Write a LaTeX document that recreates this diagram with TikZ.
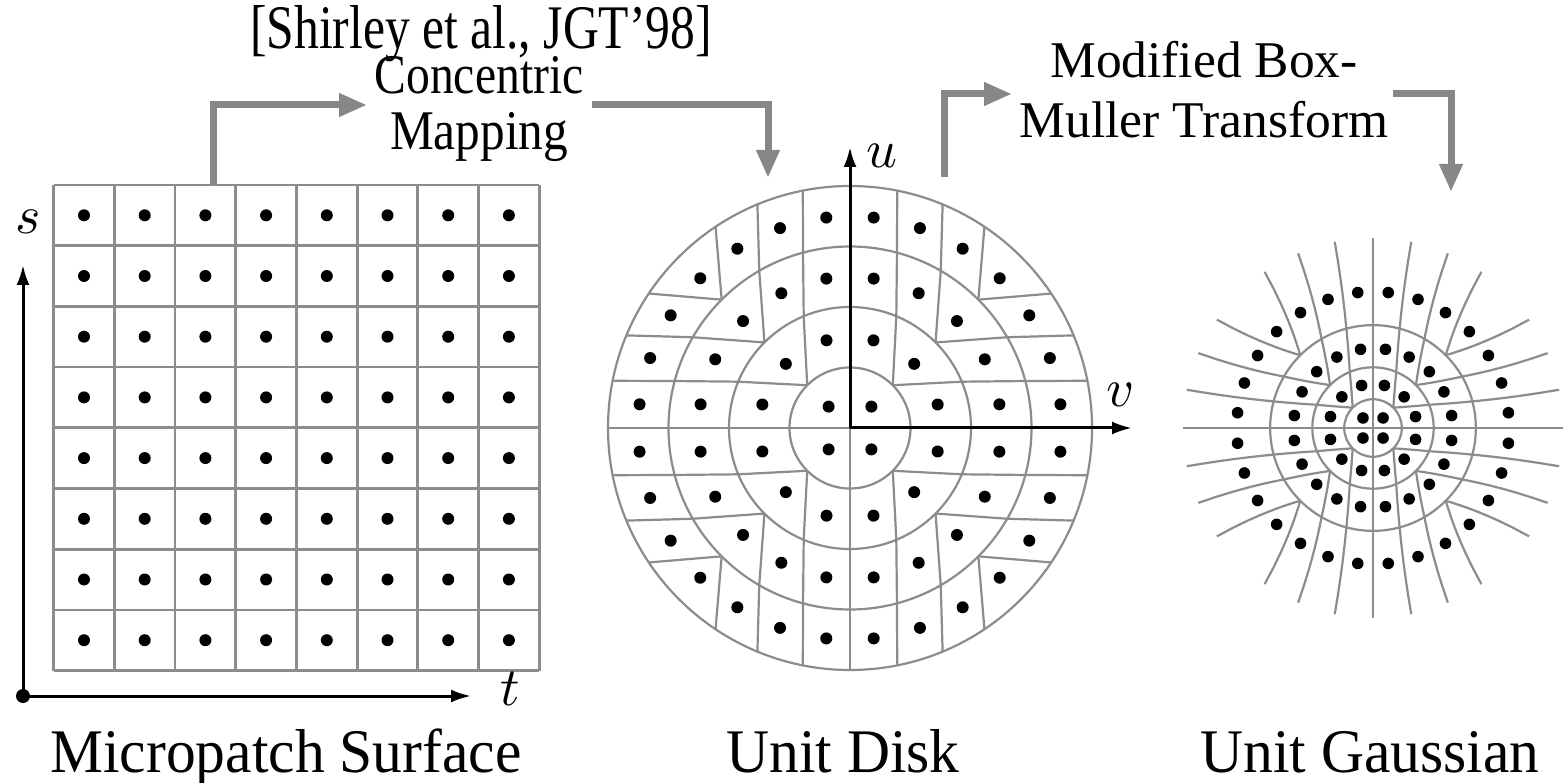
\documentclass[tikz,border=0pt]{standalone}
\usepackage{fontspec}
\usepackage{graphicx}
\setmainfont{Liberation Serif}
\usetikzlibrary{arrows.meta}
\definecolor{lgray}{HTML}{8C8C8C}
\definecolor{agray}{HTML}{878787}
% concentric mapping of square point (a,b) -> disk point \CMx,\CMy
\newcommand\CMap[2]{%
  \edef\CMa{\fpeval{round(#1,6)}}\edef\CMb{\fpeval{round(#2,6)}}%
  \ifdim\fpeval{abs(\CMa)}pt>\fpeval{abs(\CMb)}pt\relax
    \edef\CMr{\CMa}\edef\CMp{\fpeval{45*(\CMb)/(\CMa)}}%
  \else
    \ifdim\fpeval{abs(\CMb)}pt=0pt\relax
      \def\CMr{0}\def\CMp{0}%
    \else
      \edef\CMr{\CMb}\edef\CMp{\fpeval{90-45*(\CMa)/(\CMb)}}%
    \fi
  \fi
  \edef\CMx{\fpeval{round((\CMr)*cosd(\CMp),6)}}%
  \edef\CMy{\fpeval{round((\CMr)*sind(\CMp),6)}}%
}
% modified Box-Muller: disk point -> gaussian point \GMx,\GMy
\newcommand\GMap[2]{%
  \edef\GMq{\fpeval{min(max((#1)^2+(#2)^2,0.000000001),0.995)}}%
  \edef\GMg{\fpeval{sqrt(-2*ln(1-\GMq)/\GMq)}}%
  \edef\GMx{\fpeval{round((#1)*\GMg,6)}}%
  \edef\GMy{\fpeval{round((#2)*\GMg,6)}}%
}
\newcommand\DrawSeg[4]{%
  \CMap{#1}{#2}\edef\SPx{\CMx}\edef\SPy{\CMy}%
  \CMap{#3}{#4}\edef\SQx{\CMx}\edef\SQy{\CMy}%
  \draw[diskline] ({850+242*\SPx},{428-242*\SPy}) -- ({850+242*\SQx},{428-242*\SQy});
  \GMap{\SPx}{\SPy}%
  \xdef\GPath{({1373+80*\GMx},{428-80*\GMy})}%
  \foreach \t in {1,...,10}{%
    \edef\STx{\fpeval{(\SPx)+((\SQx)-(\SPx))*\t/10}}%
    \edef\STy{\fpeval{(\SPy)+((\SQy)-(\SPy))*\t/10}}%
    \GMap{\STx}{\STy}%
    \xdef\GPath{\GPath -- ({1373+80*\GMx},{428-80*\GMy})}%
  }%
  \begin{scope}
    \clip (1373,428) circle[radius=190];
    \edef\GCmd{\noexpand\draw[gline] \GPath;}\GCmd
  \end{scope}
}
\newcommand\Cond[2]{\scalebox{#1}[1]{#2}}
\newcommand\BigMath[1]{\scalebox{5.4}{$#1$}}
\begin{document}
\begin{tikzpicture}[x=1pt,y=-1pt,
  gridline/.style={draw=lgray,line width=2.8pt},
  diskline/.style={draw=lgray,line width=2.2pt},
  gline/.style={draw=lgray,line width=2.2pt},
  flow/.style={draw=agray,line width=7pt,-{Triangle[length=28pt,width=22pt]}},
  axisarrow/.style={draw=black,line width=3pt,-{Latex[length=20pt,width=13pt]}},
  lbl/.style={inner sep=0pt,anchor=base},
  mathlbl/.style={inner sep=0pt}]
\fill[white] (0,0) rectangle (1564,783);
\useasboundingbox (0,0) rectangle (1564,783);

% ---------- micropatch grid ----------
\foreach \k in {0,...,8}{
  \draw[gridline] ({53.6+60.7*\k},185) -- ({53.6+60.7*\k},670.6);
  \draw[gridline] (53.6,{185+60.7*\k}) -- (539.2,{185+60.7*\k});
}
\coordinate (O) at (23,696);
\coordinate (sT) at (23,265);
\coordinate (tT) at (471,696);
\draw[axisarrow] (O) -- (sT);
\draw[axisarrow] (O) -- (tT);
\fill (O) circle[radius=7];
\node[mathlbl] (slab) at (28,222) {\BigMath{s}};
\node[mathlbl] (tlab) at (510,689) {\BigMath{t}};

% ---------- unit disk ----------
\foreach \rr in {0.25,0.5,0.75,1}{
  \draw[diskline] (850,428) circle[radius={242*\rr}];
}
% ---------- gaussian rings ----------
\foreach \rr in {0.25,0.5,0.75}{
  \draw[gline] (1373,428) circle[radius={80*sqrt(-2*ln(1-\rr*\rr))}];
}
% mapped grid lines
\foreach \i in {0,...,8}{
  \foreach \j in {0,...,7}{
    \edef\Aa{\fpeval{-1+0.25*\i}}%
    \edef\Bb{\fpeval{-1+0.25*\j}}%
    \edef\Bc{\fpeval{-0.75+0.25*\j}}%
    \edef\CMskp{\fpeval{((abs(\Bb)<=abs(\Aa)+0.001)&&(abs(\Bc)<=abs(\Aa)+0.001))?1:0}}%
    \ifnum\CMskp=0\relax
      \DrawSeg{\Aa}{\Bb}{\Aa}{\Bc}%
      \DrawSeg{\Bb}{\Aa}{\Bc}{\Aa}%
    \fi
  }
}
% dots
\foreach \i in {0,...,7}{
  \foreach \j in {0,...,7}{
    \fill ({84+60.7*\i},{215.3+60.7*\j}) circle[radius=6];
    \edef\Aa{\fpeval{-0.875+0.25*\i}}%
    \edef\Bb{\fpeval{-0.875+0.25*\j}}%
    \CMap{\Aa}{\Bb}%
    \fill ({850+242*\CMx},{428-242*\CMy}) circle[radius=6];
    \GMap{\CMx}{\CMy}%
    \fill ({1373+80*\GMx},{428-80*\GMy}) circle[radius=5.8];
  }
}
% disk axes
\coordinate (D) at (850,428);
\coordinate (uT) at (850,147);
\coordinate (vT) at (1132,428);
\draw[axisarrow] (D) -- (uT);
\draw[axisarrow] (D) -- (vT);
\node[mathlbl] (ulab) at (882,156) {\BigMath{u}};
\node[mathlbl] (vlab) at (1121,395) {\BigMath{v}};

% ---------- flow arrows ----------
\coordinate (ca0) at (213,185);
\coordinate (ca1) at (367,105);
\coordinate (ca2) at (592,105);
\coordinate (ca3) at (768,178);
\draw[flow] (ca0) |- (ca1);
\draw[flow] (ca2) -| (ca3);
\coordinate (ba0) at (944,177);
\coordinate (ba1) at (1012,94);
\coordinate (ba2) at (1393,94);
\coordinate (ba3) at (1451,192);
\draw[flow] (ba0) |- (ba1);
\draw[flow] (ba2) -| (ba3);

% ---------- texts ----------
\node[lbl,font=\fontsize{62}{70}\selectfont] (shirley) at (481,49) {\Cond{0.8}{[Shirley et al., JGT’98]}};
\node[lbl,font=\fontsize{56}{70}\selectfont] (conc) at (479,94) {\Cond{0.85}{Concentric}};
\node[lbl,font=\fontsize{56}{70}\selectfont] (mapp) at (479,150) {\Cond{0.88}{Mapping}};
\node[lbl,font=\fontsize{51.5}{60}\selectfont] (modb) at (1204,78) {Modified Box-};
\node[lbl,font=\fontsize{51.5}{60}\selectfont] (mull) at (1204,138) {Muller Transform};
\node[lbl,font=\fontsize{62}{70}\selectfont] (lab1) at (286,772) {\Cond{0.96}{Micropatch Surface}};
\node[lbl,font=\fontsize{62}{70}\selectfont] (lab2) at (843,772) {\Cond{0.96}{Unit Disk}};
\node[lbl,font=\fontsize{62}{70}\selectfont] (lab3) at (1370,772) {\Cond{0.96}{Unit Gaussian}};
\end{tikzpicture}
\end{document}
